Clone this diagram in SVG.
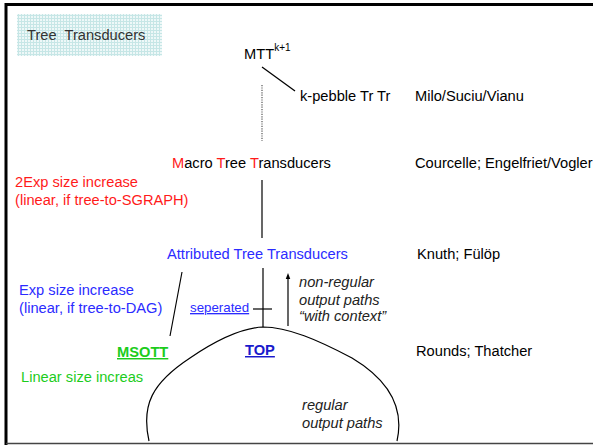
<svg xmlns="http://www.w3.org/2000/svg" width="593" height="445" viewBox="0 0 593 445">
  <style>
    text { font-family: "Liberation Sans", Arial, sans-serif; font-size: 14.67px; fill: #000; }
    .red { fill: #ff1a1a; }
    .blue { fill: #2b2bff; }
    .green { fill: #1ccc1c; }
    .it { font-style: italic; fill: #222; }
    .bold { font-weight: bold; }
    .ul { text-decoration: underline; }
    .edge { stroke: #000; stroke-width: 1.2; fill: none; }
  </style>
  <defs>
    <pattern id="grid" width="3" height="3" patternUnits="userSpaceOnUse">
      <rect width="3" height="3" fill="#eef8f8"/>
      <path d="M0,0.5 H3 M0.5,0 V3" stroke="#c6e6e6" stroke-width="1"/>
    </pattern>
    <marker id="arrow" viewBox="0 0 8 8" refX="4" refY="4" markerWidth="5" markerHeight="5" orient="auto">
      <path d="M0,1 L8,4 L0,7 Z" fill="#000"/>
    </marker>
  </defs>

  <rect width="593" height="445" fill="#fff"/>
  <!-- frame -->
  <path d="M6,445 V4.5 H593" stroke="#000" stroke-width="3" fill="none"/>
  <line x1="6" y1="443.5" x2="593" y2="443.5" stroke="#444" stroke-width="1.5"/>

  <!-- title -->
  <g id="title">
    <rect x="17" y="14" width="145" height="42" fill="url(#grid)"/>
    <text x="27" y="40" style="fill:#333">Tree&#160; Transducers</text>
  </g>

  <!-- connectors -->
  <g id="connectors">
    <line class="edge" x1="262" y1="67" x2="295" y2="91"/>
    <line class="edge" x1="262" y1="85" x2="262" y2="141" stroke-dasharray="1.2,1.2" style="stroke:#555"/>
    <line class="edge" x1="262" y1="180" x2="262" y2="238"/>
    <line class="edge" x1="263" y1="268" x2="263" y2="327"/>
    <line class="edge" x1="182" y1="272" x2="170" y2="336"/>
    <line class="edge" x1="253" y1="309" x2="272" y2="309"/>
    <line class="edge" x1="288" y1="326" x2="288" y2="276" marker-end="url(#arrow)"/>
    <path class="edge" d="M149,441 C141,405 152,383 190,358 C215,341 242,328 263,327 C288,327 318,340 352,358 C392,382 404,410 397,441"/>
  </g>

  <g id="mtt">
    <text x="244" y="59">MTT<tspan dy="-8" font-size="10">k+1</tspan></text>
  </g>
  <g id="pebble">
    <text x="300" y="101">k-pebble Tr Tr</text>
    <text x="415" y="101">Milo/Suciu/Vianu</text>
  </g>

  <g id="macro">
    <text x="172" y="168"><tspan class="red">M</tspan>acro <tspan class="red">T</tspan>ree <tspan class="red">T</tspan>ransducers</text>
    <text x="415" y="168">Courcelle; Engelfriet/Vogler</text>
    <text class="red" x="15" y="187">2Exp size increase</text>
    <text class="red" x="15" y="205">(linear, if tree-to-SGRAPH)</text>
  </g>

  <g id="attributed">
    <text class="blue" x="167" y="259">Attributed Tree Transducers</text>
    <text x="417" y="259">Knuth; Fülöp</text>
    <text class="blue" x="19" y="295">Exp size increase</text>
    <text class="blue" x="19" y="313">(linear, if tree-to-DAG)</text>
    <text class="blue ul" x="190" y="312" style="font-size:13.3px">seperated</text>
  </g>

  <g id="context">
    <text class="it" x="299" y="287">non-regular</text>
    <text class="it" x="299" y="305">output paths</text>
    <text class="it" x="299" y="321">“with context”</text>
  </g>

  <g id="msott">
    <text class="green bold ul" x="117" y="357">MSOTT</text>
    <text class="green" x="21" y="382">Linear size increas</text>
  </g>

  <g id="top">
    <text class="bold ul" x="245" y="355" style="fill:#1a1acc">TOP</text>
    <text x="416" y="356">Rounds; Thatcher</text>
    <text class="it" x="302" y="410">regular</text>
    <text class="it" x="302" y="428">output paths</text>
  </g>
</svg>
